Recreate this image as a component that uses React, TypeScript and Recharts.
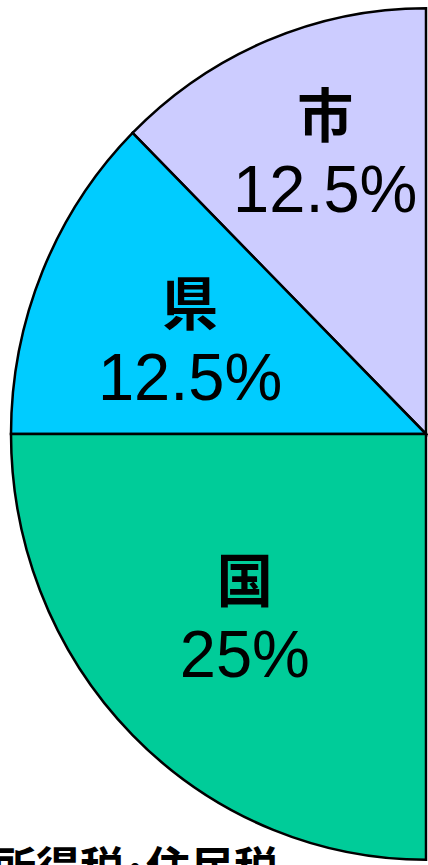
import React from "react";
import { PieChart, Pie, Cell } from "recharts";

const categories = ["市", "県", "国"];
const shares = [12.5, 12.5, 25];
const shareLabels = ["12.5%", "12.5%", "25%"];
const colors = ["#CCCCFF", "#00CCFF", "#00CC99"];
const title = "所得税･住民税";

const data = categories.map((name, i) => ({ name, value: shares[i], text: shareLabels[i] }));

const RADIAN = Math.PI / 180;
// label placement tweaks per slice (depth as share of radius, angle nudge)
const labelDepth = [0.703, 0.609, 0.614];
const labelTurn = [-2.3, 1.5, -0.3];
// the original pie is a little taller than wide
const STRETCH = 1.026;

const renderLabel = (props: any) => {
  const { cx, cy, midAngle, outerRadius, index } = props;
  const r = outerRadius * labelDepth[index];
  const a = (midAngle + labelTurn[index]) * RADIAN;
  const x = cx + r * Math.cos(-a);
  const y = cy + r * Math.sin(-a);
  return (
    <g>
      <text
        x={x}
        y={y - 40}
        textAnchor="middle"
        dominantBaseline="central"
        fontFamily="'Noto Sans CJK JP', sans-serif"
        fontWeight="bold"
        fontSize={56}
        fill="#000"
      >
        {data[index].name}
      </text>
      <text
        x={x}
        y={y + 35}
        textAnchor="middle"
        dominantBaseline="central"
        fontFamily="'Liberation Sans', Arial, sans-serif"
        fontSize={65}
        fill="#000"
      >
        {data[index].text}
      </text>
    </g>
  );
};

const App: React.FC = () => {
  return (
    <div style={{ position: "absolute", left: 0, top: 0, width: 428, height: 865, overflow: "hidden" }}>
      <div style={{ transform: `scaleY(${STRETCH})`, transformOrigin: "0 434px" }}>
        <PieChart width={428} height={865} margin={{ top: 0, right: 0, bottom: 0, left: 0 }}>
          <Pie
            data={data}
            dataKey="value"
            cx={426}
            cy={434}
            outerRadius={415}
            startAngle={90}
            endAngle={270}
            stroke="#000"
            strokeWidth={2.5}
            label={renderLabel}
            labelLine={false}
            isAnimationActive={false}
          >
            {data.map((d, i) => (
              <Cell key={d.name} fill={colors[i]} />
            ))}
          </Pie>
        </PieChart>
      </div>
      <div
        style={{
          position: "absolute",
          right: 150,
          top: 835,
          whiteSpace: "nowrap",
          fontFamily: "'Noto Sans CJK JP', sans-serif",
          fontWeight: "bold",
          fontSize: 44,
          lineHeight: "60px",
          color: "#000",
        }}
      >
        {title}
      </div>
    </div>
  );
};

export default App;
